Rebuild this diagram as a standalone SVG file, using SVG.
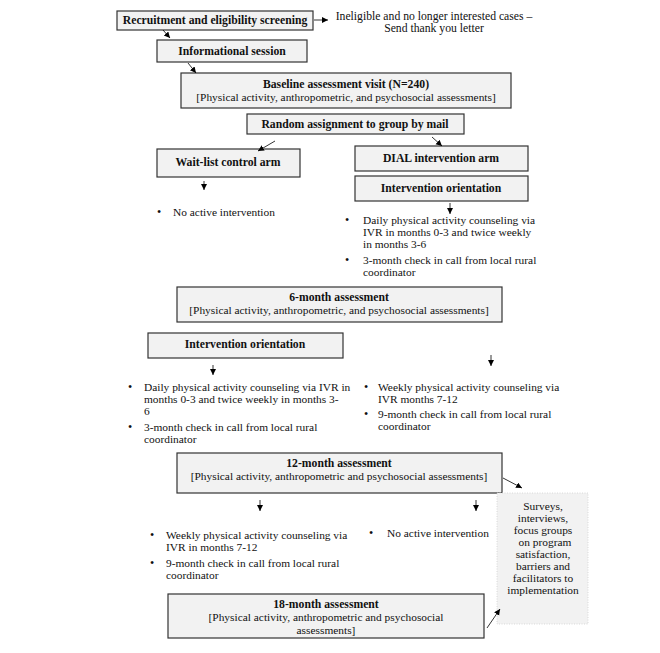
<svg xmlns="http://www.w3.org/2000/svg" width="660" height="653" viewBox="0 0 660 653">
<defs>
<marker id="ah" markerWidth="8" markerHeight="8" refX="6" refY="3" orient="auto" markerUnits="userSpaceOnUse">
<path d="M0,0 L6,3 L0,6 Z" fill="#000"/>
</marker>
<style>
.box{fill:#f2f2f2;stroke:#333;stroke-width:1.2}
.sbox{fill:#f2f2f2;stroke:#d0d0d0;stroke-width:0.8;stroke-dasharray:1 1.5}
text{font-family:"Liberation Serif",serif;font-size:11.4px;fill:#111}
.b{font-weight:bold;font-size:11.7px}
.c{text-anchor:middle}
.d{font-size:12px}
.con{stroke:#000;stroke-width:0.8;fill:none;marker-end:url(#ah)}
</style>
</defs>
<rect width="660" height="653" fill="#fff"/>

<g id="recruit"><rect class="box" x="117" y="11" width="196" height="19"/><text class="b c" x="215" y="24">Recruitment and eligibility screening</text></g>
<g id="ineligible"><text class="c" x="434" y="20" style="font-size:11.7px">Ineligible and no longer interested cases –</text><text class="c" x="434" y="32" style="font-size:11.7px">Send thank you letter</text></g>
<g id="info"><rect class="box" x="157" y="40" width="150" height="22"/><text class="b c" x="232" y="55">Informational session</text></g>
<g id="baseline"><rect class="box" x="181" y="73" width="330" height="35"/><text class="b c" x="346" y="88">Baseline assessment visit (N=240)</text><text class="c" x="346" y="101">[Physical activity, anthropometric, and psychosocial assessments]</text></g>
<g id="random"><rect class="box" x="247" y="114" width="217" height="20"/><text class="b c" x="355" y="128">Random assignment to group by mail</text></g>
<g id="waitlist"><rect class="box" x="157" y="149" width="143" height="28"/><text class="b c" x="228" y="166">Wait-list control arm</text></g>
<g id="dial"><rect class="box" x="355" y="146" width="173" height="25"/><text class="b c" x="441" y="162">DIAL intervention arm</text></g>
<g id="orient1"><rect class="box" x="355" y="176" width="173" height="25"/><text class="b c" x="441" y="192">Intervention orientation</text></g>
<g id="wl-bullets"><text class="d" x="157" y="216">•</text><text x="173" y="216">No active intervention</text></g>
<g id="dial-bullets">
<text class="d" x="345" y="224">•</text><text x="363" y="224">Daily physical activity counseling via</text>
<text x="363" y="236">IVR in months 0-3 and twice weekly</text>
<text x="363" y="248">in months 3-6</text>
<text class="d" x="345" y="264">•</text><text x="363" y="264">3-month check in call from local rural</text>
<text x="363" y="276">coordinator</text>
</g>
<g id="m6"><rect class="box" x="177" y="287" width="325" height="35"/><text class="b c" x="339" y="301">6-month assessment</text><text class="c" x="339" y="314">[Physical activity, anthropometric, and psychosocial assessments]</text></g>
<g id="orient2"><rect class="box" x="148" y="333" width="195" height="25"/><text class="b c" x="245" y="348">Intervention orientation</text></g>
<g id="wl-bullets2">
<text class="d" x="128" y="391">•</text><text x="144" y="391">Daily physical activity counseling via IVR in</text>
<text x="144" y="403">months 0-3 and twice weekly in months 3-</text>
<text x="144" y="415">6</text>
<text class="d" x="128" y="431">•</text><text x="144" y="431">3-month check in call from local rural</text>
<text x="144" y="443">coordinator</text>
</g>
<g id="dial-bullets2">
<text class="d" x="364" y="391">•</text><text x="378" y="391">Weekly physical activity counseling via</text>
<text x="378" y="403">IVR months 7-12</text>
<text class="d" x="364" y="418">•</text><text x="378" y="418">9-month check in call from local rural</text>
<text x="378" y="430">coordinator</text>
</g>
<g id="m12"><rect class="box" x="177" y="453" width="325" height="40"/><text class="b c" x="339" y="467">12-month assessment</text><text class="c" x="339" y="480">[Physical activity, anthropometric and psychosocial assessments]</text></g>
<g id="surveys"><rect class="sbox" x="497" y="493" width="91" height="131"/>
<text class="c" x="543" y="510">Surveys,</text>
<text class="c" x="543" y="522">interviews,</text>
<text class="c" x="543" y="534">focus groups</text>
<text class="c" x="545" y="546">on program</text>
<text class="c" x="543" y="558">satisfaction,</text>
<text class="c" x="543" y="570">barriers and</text>
<text class="c" x="543" y="582">facilitators to</text>
<text class="c" x="543" y="594">implementation</text>
</g>
<g id="wl-bullets3">
<text class="d" x="150" y="539">•</text><text x="166" y="539">Weekly physical activity counseling via</text>
<text x="166" y="551">IVR in months 7-12</text>
<text class="d" x="150" y="567">•</text><text x="166" y="567">9-month check in call from local rural</text>
<text x="166" y="579">coordinator</text>
</g>
<g id="dial-bullets3"><text class="d" x="369" y="537">•</text><text x="387" y="537">No active intervention</text></g>
<g id="m18"><rect class="box" x="168" y="594" width="316" height="44"/><text class="b c" x="326" y="608">18-month assessment</text><text class="c" x="326" y="621">[Physical activity, anthropometric and psychosocial</text><text class="c" x="326" y="634">assessments]</text></g>

<g id="connectors">
<line class="con" x1="314" y1="20" x2="328" y2="20"/>
<line class="con" x1="163" y1="30" x2="170" y2="38"/>
<line class="con" x1="188" y1="63" x2="196" y2="73"/>
<line class="con" x1="275" y1="141" x2="258" y2="151"/>
<line class="con" x1="432" y1="137" x2="442" y2="146"/>
<line class="con" x1="204" y1="181" x2="204" y2="190"/>
<line class="con" x1="450" y1="203" x2="450" y2="214"/>
<line class="con" x1="213" y1="365" x2="213" y2="375"/>
<line class="con" x1="491" y1="355" x2="491" y2="366"/>
<line class="con" x1="503" y1="478" x2="522" y2="488"/>
<line class="con" x1="260" y1="500" x2="260" y2="511"/>
<line class="con" x1="476" y1="500" x2="476" y2="511"/>
<line class="con" x1="487" y1="628" x2="500" y2="609"/>
</g>
</svg>
